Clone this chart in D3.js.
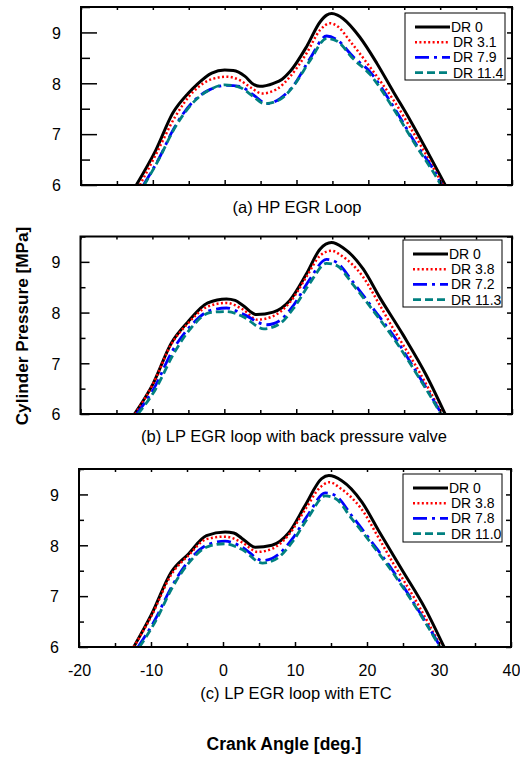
<!DOCTYPE html>
<html>
<head>
<meta charset="utf-8">
<script src="https://cdn.jsdelivr.net/npm/d3@7"></script>
<style>
  body { margin: 0; background: #fff; }
  svg { display: block; font-family: "Liberation Sans", Arial, sans-serif; }
</style>
</head>
<body>
<svg id="chart" width="520" height="758"></svg>
<script>
// crank angle [deg], cylinder pressure [MPa]
const hpDR0 = [[-12.3,6.0],[-9.6,6.68],[-7.2,7.42],[-5.1,7.8],[-3.9,7.97],[-1.8,8.2],[0.0,8.26],[1.2,8.25],[2.8,8.14],[4.0,7.98],[4.9,7.94],[6.8,8.0],[8.0,8.08],[9.1,8.23],[11.4,8.72],[13.3,9.21],[14.2,9.34],[14.9,9.37],[15.7,9.34],[16.5,9.27],[18.8,8.91],[21.2,8.39],[23.5,7.83],[25.8,7.28],[28.1,6.69],[30.7,6.0]];
const hpDR31 = [[-11.8,6.0],[-9.5,6.62],[-6.9,7.34],[-4.4,7.83],[-1.8,8.08],[0.3,8.13],[2.1,8.06],[3.8,7.9],[5.2,7.8],[7.2,7.88],[9.1,8.13],[11.4,8.59],[13.3,9.05],[14.7,9.18],[15.8,9.11],[17.5,8.82],[20.7,8.23],[23.5,7.67],[26.3,7.02],[30.0,6.1],[30.4,6.0]];
const hpDR79 = [[-11.3,6.0],[-9.0,6.56],[-7.2,7.08],[-4.4,7.64],[-2.0,7.88],[0.3,7.96],[2.1,7.94],[4.0,7.77],[5.9,7.6],[7.7,7.7],[9.6,7.96],[11.9,8.49],[14.2,8.93],[15.6,8.86],[17.9,8.52],[20.2,8.23],[23.5,7.54],[26.3,6.88],[30.0,6.06],[30.2,6.0]];
const hpDR114 = [[-11.2,6.0],[-9.0,6.55],[-7.2,7.06],[-4.4,7.62],[-2.0,7.88],[0.0,7.97],[2.1,7.92],[4.0,7.74],[5.5,7.6],[7.7,7.68],[9.6,7.95],[11.9,8.45],[14.2,8.88],[15.6,8.83],[17.9,8.48],[20.2,8.18],[23.5,7.5],[26.3,6.85],[29.9,6.05],[30.1,6.0]];

const bpDR0 = [[-12.5,6.0],[-9.9,6.6],[-7.4,7.39],[-5.1,7.81],[-2.3,8.19],[0.3,8.27],[1.5,8.24],[2.6,8.14],[4.5,7.96],[6.8,8.01],[9.1,8.24],[11.4,8.76],[13.3,9.25],[14.9,9.38],[16.5,9.28],[19.3,8.86],[21.6,8.3],[24.9,7.55],[28.1,6.76],[30.7,6.0]];
const bpDR38 = [[-12.4,6.0],[-9.9,6.6],[-7.4,7.37],[-5.1,7.78],[-2.3,8.12],[0.3,8.19],[2.6,8.06],[4.6,7.86],[6.8,7.93],[9.1,8.2],[11.4,8.7],[13.3,9.12],[14.9,9.22],[16.3,9.12],[19.3,8.7],[21.6,8.15],[23.5,7.68],[26.5,6.98],[30.3,6.0]];
const bpDR72 = [[-12.2,6.0],[-9.8,6.5],[-7.2,7.25],[-4.6,7.75],[-2.0,8.04],[0.3,8.09],[2.6,7.97],[5.9,7.76],[7.7,7.84],[9.6,8.14],[11.9,8.66],[14.2,9.05],[15.6,8.99],[17.9,8.6],[20.9,8.04],[23.5,7.55],[26.7,6.83],[30.0,6.05],[30.2,6.0]];
const bpDR113 = [[-12.0,6.0],[-9.6,6.48],[-7.0,7.2],[-4.6,7.7],[-2.0,8.0],[0.3,8.02],[2.6,7.92],[5.5,7.68],[7.7,7.78],[9.6,8.08],[11.9,8.58],[14.2,8.97],[15.6,8.93],[17.9,8.55],[20.9,8.0],[23.5,7.5],[26.7,6.8],[29.9,6.05],[30.1,6.0]];

const etcDR0 = [[-12.4,6.0],[-9.9,6.65],[-7.2,7.47],[-4.8,7.83],[-2.3,8.19],[0.3,8.26],[1.5,8.24],[2.6,8.14],[4.5,7.96],[6.8,8.0],[9.1,8.24],[11.4,8.78],[13.7,9.31],[14.7,9.37],[16.5,9.27],[19.3,8.85],[21.6,8.29],[24.9,7.51],[28.1,6.75],[30.7,6.0]];
const etcDR38 = [[-12.4,6.0],[-9.9,6.62],[-7.2,7.42],[-4.8,7.8],[-2.3,8.12],[0.3,8.17],[2.6,8.06],[4.8,7.87],[6.8,7.93],[9.1,8.2],[11.4,8.7],[13.5,9.14],[14.8,9.24],[16.3,9.12],[19.3,8.7],[21.6,8.15],[23.5,7.68],[26.5,6.98],[30.3,6.0]];
const etcDR78 = [[-11.8,6.0],[-9.5,6.52],[-7.0,7.22],[-4.6,7.72],[-2.0,8.02],[0.3,8.08],[2.6,7.97],[5.5,7.7],[7.7,7.82],[9.6,8.12],[11.9,8.62],[14.2,9.03],[15.6,8.98],[17.9,8.58],[20.9,8.02],[23.5,7.52],[26.7,6.82],[30.0,6.05],[30.2,6.0]];
const etcDR110 = [[-11.6,6.0],[-9.4,6.5],[-7.0,7.18],[-4.6,7.68],[-2.0,7.98],[0.3,8.03],[2.6,7.92],[5.5,7.65],[7.7,7.76],[9.6,8.06],[11.9,8.56],[14.2,8.97],[15.6,8.92],[17.9,8.52],[20.9,7.98],[23.5,7.48],[26.7,6.8],[29.9,6.05],[30.1,6.0]];

const hpLabels = ["DR 0", "DR 3.1", "DR 7.9", "DR 11.4"];
const bpLabels = ["DR 0", "DR 3.8", "DR 7.2", "DR 11.3"];
const etcLabels = ["DR 0", "DR 3.8", "DR 7.8", "DR 11.0"];

const xTicks = [-20, -10, 0, 10, 20, 30, 40];
const xMinorTicks = [-15, -5, 5, 15, 25, 35];
const yTicks = [6, 7, 8, 9];
const yMinorTicks = [6.5, 7.5, 8.5, 9.5];

// line styles for the four series
const styles = [
  { color: "#000000", width: 3, dash: null },
  { color: "#ff0000", width: 2.5, dash: "2,2.4" },
  { color: "#0000ff", width: 2.8, dash: "14,5,3,5" },
  { color: "#008080", width: 2.8, dash: "8,4" }
];

const panels = [
  { series: [hpDR0, hpDR31, hpDR79, hpDR114], labels: hpLabels, title: "(a) HP EGR Loop",
    left: 81, right: 512, top: 7, bottom: 185, major: 16, minor: 9,
    legend: { x: 405, y: 13, w: 100, h: 67 }, titleY: 213, titleX: 297 },
  { series: [bpDR0, bpDR38, bpDR72, bpDR113], labels: bpLabels, title: "(b) LP EGR loop with back pressure valve",
    left: 80.5, right: 512, top: 236.5, bottom: 414, major: 9, minor: 5,
    legend: { x: 403, y: 240, w: 99, h: 67 }, titleY: 442, titleX: 294 },
  { series: [etcDR0, etcDR38, etcDR78, etcDR110], labels: etcLabels, title: "(c) LP EGR loop with ETC",
    left: 79, right: 511, top: 469, bottom: 647, major: 9, minor: 5,
    legend: { x: 403, y: 474, w: 99, h: 68 }, titleY: 699, titleX: 296, xLabels: true }
];

const svg = d3.select("#chart");

panels.forEach((p) => {
  const x = d3.scaleLinear().domain([-20, 40]).range([p.left, p.right]);
  const y = d3.scaleLinear().domain([6, 9.5]).range([p.bottom, p.top]);
  const g = svg.append("g");

  // curves
  const line = d3.line()
    .x(d => x(d[0]))
    .y(d => y(d[1]))
    .curve(d3.curveMonotoneX);

  g.selectAll(".curve")
    .data(p.series)
    .join("path")
    .attr("class", "curve")
    .attr("d", line)
    .attr("fill", "none")
    .attr("stroke", (d, i) => styles[i].color)
    .attr("stroke-width", (d, i) => styles[i].width)
    .attr("stroke-dasharray", (d, i) => styles[i].dash);

  // axes, ticks pointing inwards
  const styleAxis = (ax) => {
    ax.select(".domain").remove();
    ax.selectAll(".tick line").attr("stroke", "#000").attr("stroke-width", 1.5);
    ax.selectAll(".tick text").attr("font-size", 16).attr("fill", "#000")
      .attr("font-family", "Liberation Sans, Arial, sans-serif");
  };

  const leftAxis = g.append("g")
    .attr("transform", "translate(" + p.left + ",0)")
    .call(d3.axisLeft(y).tickValues(yTicks).tickSizeInner(-p.major).tickSizeOuter(0)
      .tickPadding(20).tickFormat(d3.format("d")));
  styleAxis(leftAxis);
  leftAxis.selectAll(".tick text").attr("dy", "0.36em");

  const leftMinor = g.append("g")
    .attr("transform", "translate(" + p.left + ",0)")
    .call(d3.axisLeft(y).tickValues(yMinorTicks).tickSizeInner(-p.minor).tickSizeOuter(0).tickFormat(""));
  styleAxis(leftMinor);

  const rightAxis = g.append("g")
    .attr("transform", "translate(" + p.right + ",0)")
    .call(d3.axisRight(y).tickValues(yTicks.concat(yMinorTicks)).tickSizeInner(-5).tickSizeOuter(0).tickFormat(""));
  styleAxis(rightAxis);

  const bottomAxis = g.append("g")
    .attr("transform", "translate(0," + p.bottom + ")")
    .call(d3.axisBottom(x).tickValues(xTicks).tickSizeInner(-5).tickSizeOuter(0)
      .tickPadding(18).tickFormat(p.xLabels ? (d => String(d)) : ""));
  styleAxis(bottomAxis);

  const bottomMinor = g.append("g")
    .attr("transform", "translate(0," + p.bottom + ")")
    .call(d3.axisBottom(x).tickValues(xMinorTicks).tickSizeInner(-4).tickSizeOuter(0).tickFormat(""));
  styleAxis(bottomMinor);

  const topAxis = g.append("g")
    .attr("transform", "translate(0," + p.top + ")")
    .call(d3.axisTop(x).tickValues(xTicks.concat(xMinorTicks)).tickSizeInner(-3).tickSizeOuter(0).tickFormat(""));
  styleAxis(topAxis);

  // frame
  g.append("rect")
    .attr("x", p.left).attr("y", p.top)
    .attr("width", p.right - p.left).attr("height", p.bottom - p.top)
    .attr("fill", "none").attr("stroke", "#000").attr("stroke-width", 2);

  // legend
  const lg = g.append("g");
  lg.append("rect")
    .attr("x", p.legend.x).attr("y", p.legend.y)
    .attr("width", p.legend.w).attr("height", p.legend.h)
    .attr("fill", "#fff").attr("stroke", "#000").attr("stroke-width", 1);
  const rowH = 15.2;
  const rows = lg.selectAll(".row")
    .data(p.labels)
    .join("g")
    .attr("class", "row")
    .attr("transform", (d, i) => "translate(" + p.legend.x + "," + (p.legend.y + 14 + i * rowH) + ")");
  rows.append("line")
    .attr("x1", 10).attr("x2", 45).attr("y1", 0).attr("y2", 0)
    .attr("stroke", (d, i) => styles[i].color)
    .attr("stroke-width", (d, i) => styles[i].width)
    .attr("stroke-dasharray", (d, i) => styles[i].dash);
  rows.append("text")
    .attr("x", (d, i) => i == 0 ? 46 : 48)
    .attr("y", 0)
    .attr("dy", "0.36em")
    .attr("font-size", 14)
    .text(d => d);

  // panel caption
  svg.append("text")
    .attr("x", p.titleX).attr("y", p.titleY)
    .attr("text-anchor", "middle")
    .attr("font-size", 16.5)
    .text(p.title);
});

svg.append("text")
  .attr("transform", "translate(28,326) rotate(-90)")
  .attr("text-anchor", "middle")
  .attr("font-size", 17.2)
  .attr("font-weight", "bold")
  .text("Cylinder Pressure [MPa]");

svg.append("text")
  .attr("x", 284).attr("y", 750)
  .attr("text-anchor", "middle")
  .attr("font-size", 17.5)
  .attr("font-weight", "bold")
  .text("Crank Angle [deg.]");
</script>
</body>
</html>
